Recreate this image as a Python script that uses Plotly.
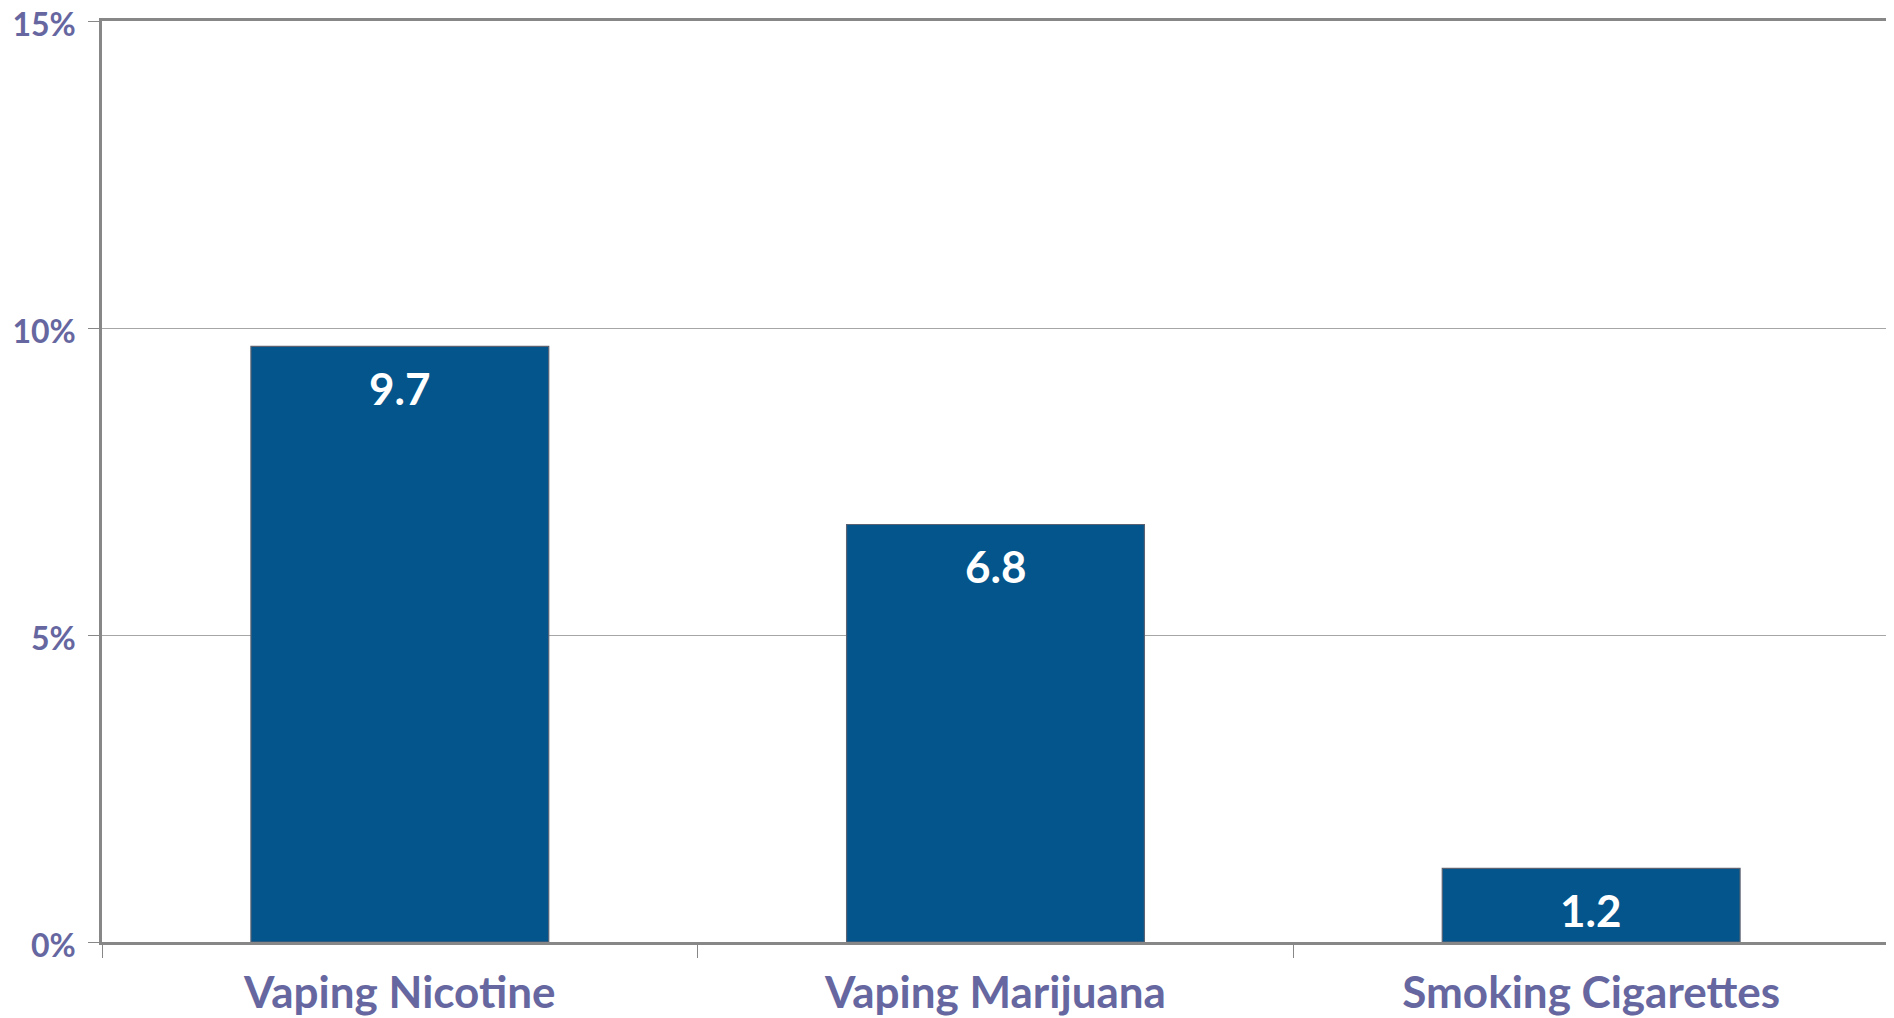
import plotly.graph_objects as go

categories = ["Vaping Nicotine", "Vaping Marijuana", "Smoking Cigarettes"]
values = [9.7, 6.8, 1.2]
y_ticks = [0, 5, 10, 15]
y_tick_labels = ["0%", "5%", "10%", "15%"]

BAR = "#03558C"
LABEL = "#6667A0"
AXIS = "#878787"
FONT = "Lato"

fig = go.Figure()
fig.add_trace(go.Bar(
    x=categories, y=values,
    marker=dict(color=BAR, line=dict(color="#5B6373", width=1.2)),
    hoverinfo="skip",
))

for c, v in zip(categories, values):
    fig.add_annotation(
        x=c, y=v, text=f"{v:.1f}", showarrow=False,
        yanchor="middle", yshift=-42,
        font=dict(family=FONT, size=44, color="white", weight="bold"),
    )

fig.update_layout(
    width=1894, height=1018,
    margin=dict(l=94, r=13, t=13, b=84),
    paper_bgcolor="white", plot_bgcolor="white",
    bargap=0.5, showlegend=False,
    font=dict(family=FONT),
)
fig.update_xaxes(
    type="category", automargin=False,
    showline=True, linecolor=AXIS, linewidth=2.5, mirror=True,
    ticks="outside", tickson="boundaries", ticklen=13, tickcolor=AXIS, tickwidth=1,
    tickfont=dict(family=FONT, size=44, color=LABEL, weight="bold"),
    ticklabelstandoff=10,
    showgrid=False,
)
fig.update_yaxes(
    range=[0, 15], tickvals=y_ticks, ticktext=y_tick_labels, automargin=False,
    ticklabeloverflow="allow", ticklabelshift=4,
    showline=True, linecolor=AXIS, linewidth=2.5, mirror=True,
    ticks="outside", ticklen=11, tickcolor=AXIS, tickwidth=1,
    tickfont=dict(family=FONT, size=32, color=LABEL, weight="bold"),
    ticklabelstandoff=6,
    showgrid=True, gridcolor="#A6A6A6", gridwidth=1,
    zeroline=False,
)

fig.write_html("out.html")
